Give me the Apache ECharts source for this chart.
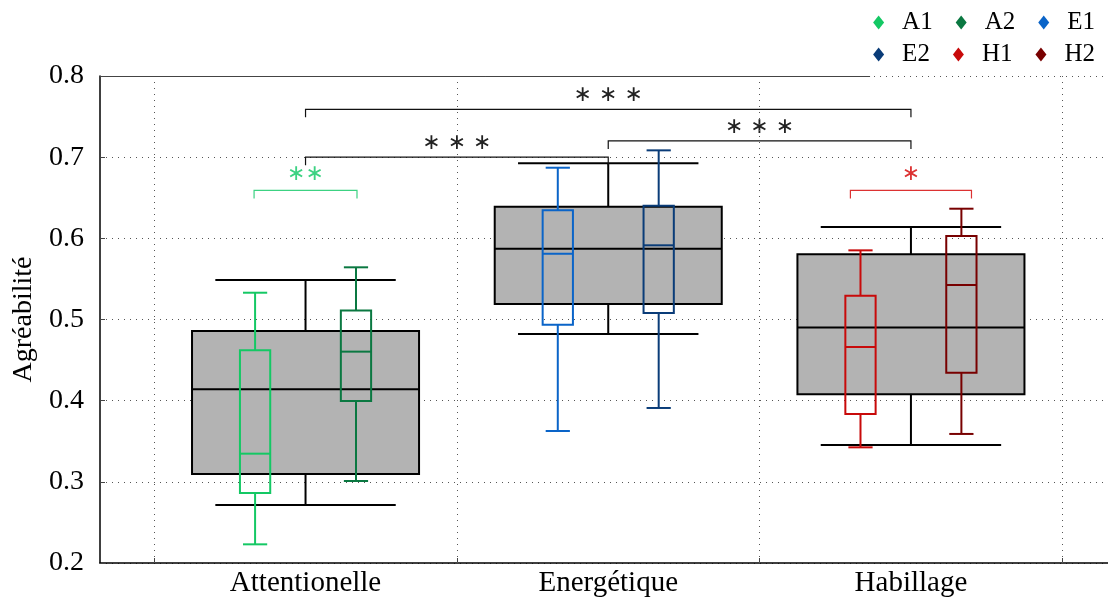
<!DOCTYPE html>
<html>
<head>
<meta charset="utf-8">
<script src="https://cdn.jsdelivr.net/npm/echarts@6/dist/echarts.min.js"></script>
<style>html,body{margin:0;padding:0;background:#fff}#chart{width:1108px;height:599px}</style>
</head>
<body>
<div id="chart"></div>
<script>
// ---- data ----
const categories = ['Attentionelle', 'Energétique', 'Habillage'];
const yTicks = [0.2, 0.3, 0.4, 0.5, 0.6, 0.7, 0.8];
// [min, q1, median, q3, max]
const statAttentionelle = [0.2715, 0.3097, 0.414, 0.4858, 0.5487];
const statEnergetique   = [0.482, 0.519, 0.5873, 0.639, 0.6924];
const statHabillage     = [0.3454, 0.4078, 0.490, 0.5803, 0.614];
const statA1 = [0.223, 0.2863, 0.3347, 0.462, 0.533];
const statA2 = [0.301, 0.3996, 0.4604, 0.511, 0.5643];
const statE1 = [0.3626, 0.4936, 0.581, 0.6345, 0.687];
const statE2 = [0.391, 0.508, 0.5914, 0.6402, 0.7084];
const statH1 = [0.3425, 0.3836, 0.4661, 0.5293, 0.5852];
const statH2 = [0.359, 0.4345, 0.5425, 0.6029, 0.6365];
const groupNames = ['A1', 'A2', 'E1', 'E2', 'H1', 'H2'];
const groupStats = [statA1, statA2, statE1, statE2, statH1, statH2];
const groupCategory = [0, 0, 1, 1, 2, 2];
const groupSide = [-1, 1, -1, 1, -1, 1];
const groupColors = ['#14c864', '#0a7841', '#0a64c8', '#0a3c78', '#c80a0a', '#780000'];
// significance between categories
const sigFrom = [0, 1, 0];
const sigTo = [2, 2, 1];
const sigLevel = [0.759, 0.720, 0.700];
const sigText = ['∗ ∗ ∗', '∗ ∗ ∗', '∗ ∗ ∗'];
// significance within a category
const inSigCategory = [0, 2];
const inSigHalfSpan = [0.17, 0.2];
const inSigLevel = [0.659, 0.659];
const inSigText = ['∗∗', '∗'];
const inSigColor = ['#3cd282', '#dc3232'];

// ---- layout constants ----
const X_MIN = -0.679, X_MAX = 2.651;
const SIDE_OFFSET = 1 / 6;
const FONT = '"Liberation Serif", "DejaVu Serif", serif';

const overallStats = [statAttentionelle, statEnergetique, statHabillage];

function boxChildren(api, x, s, halfW, capHalf, stroke, fill, lw) {
  const w = api.size([halfW, 0])[0];
  const cw = api.size([capHalf, 0])[0];
  const pMin = api.coord([x, s[0]]), pQ1 = api.coord([x, s[1]]), pMed = api.coord([x, s[2]]),
        pQ3 = api.coord([x, s[3]]), pMax = api.coord([x, s[4]]);
  const cx = pMed[0];
  const ls = {stroke: stroke, lineWidth: lw, fill: null};
  return [
    {type: 'line', shape: {x1: cx, y1: pQ3[1], x2: cx, y2: pMax[1]}, style: ls},
    {type: 'line', shape: {x1: cx, y1: pQ1[1], x2: cx, y2: pMin[1]}, style: ls},
    {type: 'line', shape: {x1: cx - cw, y1: pMax[1], x2: cx + cw, y2: pMax[1]}, style: ls},
    {type: 'line', shape: {x1: cx - cw, y1: pMin[1], x2: cx + cw, y2: pMin[1]}, style: ls},
    {type: 'rect', shape: {x: cx - w, y: pQ3[1], width: 2 * w, height: pQ1[1] - pQ3[1]},
      style: {stroke: stroke, lineWidth: lw, fill: fill || 'none'}},
    {type: 'line', shape: {x1: cx - w, y1: pMed[1], x2: cx + w, y2: pMed[1]}, style: ls}
  ];
}

const series = [];
// overall grey boxes
series.push({
  type: 'custom', name: 'overall', silent: true, z: 2,
  encode: {x: 0, y: [1, 2, 3, 4, 5]},
  data: overallStats.map((s, i) => [i].concat(s)),
  renderItem: function (params, api) {
    const x = api.value(0);
    const s = [1, 2, 3, 4, 5].map(k => api.value(k));
    return {type: 'group', children: boxChildren(api, x, s, 0.375, 0.298, '#000', '#b3b3b3', 2)};
  },
  markLine: {
    silent: true, symbol: 'none', label: {show: false},
    lineStyle: {color: '#555', type: [1, 5], width: 1},
    data: [
      {xAxis: -0.5}, {xAxis: 0.5}, {xAxis: 1.5}, {xAxis: 2.5},
      [{coord: [X_MIN, 0.8], lineStyle: {color: '#444', type: 'solid', width: 1}}, {coord: [1.865, 0.8]}]
    ]
  }
});
// sub-group boxes
groupNames.forEach((name, gi) => {
  series.push({
    type: 'custom', name: name, silent: true, z: 3,
    itemStyle: {color: groupColors[gi]},
    encode: {x: 0, y: [1, 2, 3, 4, 5]},
    data: [[groupCategory[gi] + groupSide[gi] * SIDE_OFFSET].concat(groupStats[gi])],
    renderItem: function (params, api) {
      const x = api.value(0);
      const s = [1, 2, 3, 4, 5].map(k => api.value(k));
      return {type: 'group', children: boxChildren(api, x, s, 0.05, 0.04, groupColors[gi], null, 2)};
    }
  });
});
function bracket(p1, p2, color, text, textColor, textGap) {
  const drop = 8;
  return {type: 'group', children: [
    {type: 'polyline', shape: {points: [[p1[0], p1[1] + drop], [p1[0], p1[1]], [p2[0], p2[1]], [p2[0], p2[1] + drop]]},
      style: {stroke: color, lineWidth: 1.2, fill: null}},
    {type: 'text', x: (p1[0] + p2[0]) / 2, y: p1[1] - textGap,
      style: {text: text, fill: textColor, font: '22px "DejaVu Sans", sans-serif', align: 'center', verticalAlign: 'middle'}}
  ]};
}
// significance brackets between categories
series.push({
  type: 'custom', name: 'sig', silent: true, z: 4,
  encode: {x: [0, 1], y: 2},
  data: sigFrom.map((f, i) => [f, sigTo[i], sigLevel[i]]),
  renderItem: function (params, api) {
    const i = params.dataIndex;
    const p1 = api.coord([api.value(0), api.value(2)]);
    const p2 = api.coord([api.value(1), api.value(2)]);
    return bracket(p1, p2, '#111', sigText[i], '#222', 14);
  }
});
// significance brackets within categories
series.push({
  type: 'custom', name: 'insig', silent: true, z: 4,
  encode: {x: [0, 1], y: 2},
  data: inSigCategory.map((c, i) => [c - inSigHalfSpan[i], c + inSigHalfSpan[i], inSigLevel[i]]),
  renderItem: function (params, api) {
    const i = params.dataIndex;
    const p1 = api.coord([api.value(0), api.value(2)]);
    const p2 = api.coord([api.value(1), api.value(2)]);
    return bracket(p1, p2, inSigColor[i], inSigText[i], inSigColor[i], 16);
  }
});

const legendCommon = {
  orient: 'horizontal', icon: 'diamond', itemWidth: 11, itemHeight: 14, itemGap: 23,
  selectedMode: false,
  textStyle: {fontFamily: FONT, fontSize: 25, color: '#000', padding: [0, 0, 0, 13]}
};

const chart = echarts.init(document.getElementById('chart'), null, {renderer: 'canvas'});
chart.setOption({
  animation: false,
  backgroundColor: '#fff',
  grid: {left: 100, right: 0, top: 76, bottom: 36, containLabel: false, outerBoundsMode: 'none'},
  legend: [
    Object.assign({}, legendCommon, {data: groupNames.slice(0, 3), right: 8, top: 5}),
    Object.assign({}, legendCommon, {data: groupNames.slice(3, 6), right: 8, top: 37})
  ],
  xAxis: {
    type: 'value', min: X_MIN, max: X_MAX,
    splitLine: {show: false},
    axisLine: {show: true, onZero: false, lineStyle: {color: '#000', width: 1.5}},
    axisTick: {show: true, inside: true, length: 5, customValues: [-0.5, 0.5, 1.5, 2.5], lineStyle: {color: '#444'}},
    axisLabel: {
      show: true, customValues: [0, 1, 2], margin: 6,
      formatter: v => categories[Math.round(v)],
      fontFamily: FONT, fontSize: 29, color: '#000'
    }
  },
  yAxis: {
    type: 'value', min: 0.2, max: 0.8, interval: 0.1,
    name: 'Agréabilité', nameLocation: 'middle', nameGap: 62, nameRotate: 90,
    nameTextStyle: {fontFamily: FONT, fontSize: 28, color: '#000'},
    axisLine: {show: true, onZero: false, lineStyle: {color: '#000', width: 1.5}},
    axisTick: {show: true, inside: true, length: 5, lineStyle: {color: '#444'}},
    splitLine: {show: true, lineStyle: {color: '#555', type: [1, 5], width: 1}},
    axisLabel: {
      margin: 16, fontFamily: FONT, fontSize: 28, color: '#000',
      formatter: v => v.toFixed(1)
    }
  },
  series: series
});
</script>
</body>
</html>
